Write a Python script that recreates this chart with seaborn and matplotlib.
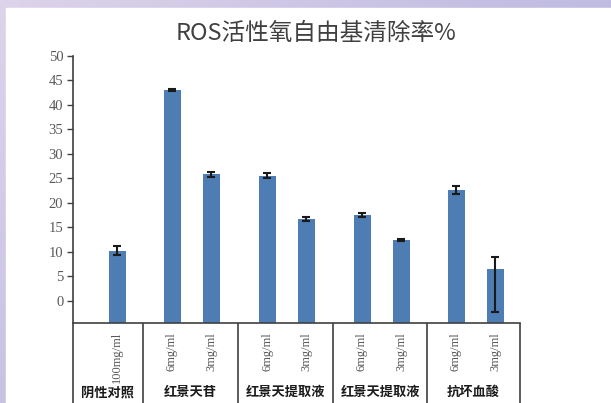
import numpy as np
import matplotlib
matplotlib.use('Agg')
import matplotlib.pyplot as plt
import matplotlib.transforms as mtransforms
from matplotlib.colors import LinearSegmentedColormap
import seaborn as sns

# data
groups = ['阴性对照', '红景天苷', '红景天提取液', '红景天提取液', '抗坏血酸']
group_sizes = [1, 2, 2, 2, 2]
doses = ['100mg/ml', '6mg/ml', '3mg/ml', '6mg/ml', '3mg/ml',
         '6mg/ml', '3mg/ml', '6mg/ml', '3mg/ml']
values = [10.2, 43.0, 25.8, 25.5, 16.7, 17.6, 12.4, 22.6, 6.5]
err_low = [0.9, 0.15, 0.6, 0.5, 0.4, 0.4, 0.15, 0.9, 8.8]
err_high = [0.9, 0.15, 0.4, 0.5, 0.4, 0.4, 0.15, 0.9, 2.5]

# layout (axis units ~ pixels along the category axis)
group_edges = [0, 70, 165, 260, 354, 447]
single_offset = 44
pair_offsets = [29, 68]
bar_w = 17
y_min = -4.5

xpos = []
for g, n in enumerate(group_sizes):
    offs = [single_offset] if n == 1 else pair_offsets
    xpos += [group_edges[g] + o for o in offs]

sns.set_style('white')
plt.rcParams['font.family'] = ['Noto Sans CJK SC', 'DejaVu Sans']

W, H = 611, 403
fig = plt.figure(figsize=(W / 100, H / 100), dpi=100)

# purple gradient frame
bg = fig.add_axes([0, 0, 1, 1], zorder=-2)
bg.set_axis_off()
cmap = LinearSegmentedColormap.from_list('bg', ['#ddd3ea', '#c3bee2', '#b4b2dc'])
gx, gy = np.meshgrid(np.linspace(0, 1, 200), np.linspace(0, 1, 200))
bg.imshow(0.6 * gx + 0.4 * gy, cmap=cmap, aspect='auto', extent=[0, 1, 0, 1], origin='upper')
bg.add_patch(plt.Rectangle((6 / W, 0), 1, (H - 8) / H, color='white', transform=bg.transAxes))
bg.set_xlim(0, 1)
bg.set_ylim(0, 1)

ax_left, ax_right = 73 / W, 520 / W
ax_bot, ax_top = (H - 323) / H, (H - 55.7) / H
ax = fig.add_axes([ax_left, ax_bot, ax_right - ax_left, ax_top - ax_bot])
ax.set_facecolor('none')

sns.barplot(x=xpos, y=values, native_scale=True, color='#4d7db3',
            saturation=1, ax=ax, errorbar=None)
# bars start from the bottom of the value axis, as in the reference
for p, cx, v in zip(ax.patches, xpos, values):
    p.set_width(bar_w)
    p.set_x(cx - bar_w / 2)
    p.set_y(y_min)
    p.set_height(v - y_min)
    p.set_edgecolor('none')

ax.errorbar(xpos, values, yerr=[err_low, err_high], fmt='none',
            ecolor='#1a1a1a', elinewidth=1.5, capsize=2.8, capthick=1.5)

ax.set_xlim(group_edges[0], group_edges[-1])
ax.set_ylim(y_min, 50)
ax.set_yticks(np.arange(0, 51, 5))
ax.set_xticks([])
ax.tick_params(axis='y', direction='out', length=4, width=1, color='#404040',
               labelsize=10.5, labelcolor='#595959', pad=3, left=True)
for lab in ax.get_yticklabels():
    lab.set_fontfamily('Liberation Serif')

for s in ['top', 'right']:
    ax.spines[s].set_visible(False)
for s in ['left', 'bottom']:
    ax.spines[s].set_color('#404040')
    ax.spines[s].set_linewidth(1.2)
    ax.spines[s].set_zorder(3)

trans = mtransforms.blended_transform_factory(ax.transData, ax.transAxes)
axh = 323 - 55.7
for xe in group_edges:
    ax.plot([xe, xe], [0, -81 / axh], transform=trans, color='#404040',
            lw=1.2, clip_on=False, solid_capstyle='butt')

for cx, d in zip(xpos, doses):
    ax.text(cx, -9 / axh, d, transform=trans, rotation=90, ha='center', va='top',
            fontsize=9, color='#595959', family='Liberation Serif')

for g, name in enumerate(groups):
    cx = (group_edges[g] + group_edges[g + 1]) / 2
    ax.text(cx, -69 / axh, name, transform=trans, ha='center', va='center',
            fontsize=9.5, fontweight='bold', color='#1a1a1a')

fig.text(316 / W, 1 - 33 / H, 'ROS活性氧自由基清除率%', ha='center', va='center',
         fontsize=17, color='#404040', fontweight='light')

fig.savefig('out.png', dpi=100)
